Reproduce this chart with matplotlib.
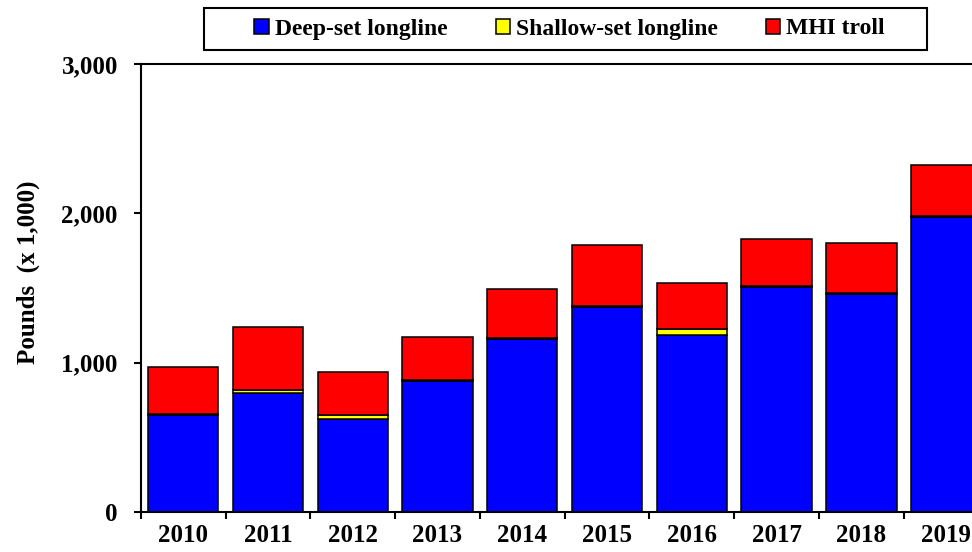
import matplotlib
matplotlib.use('Agg')
import matplotlib.pyplot as plt
from matplotlib.patches import Rectangle
import numpy as np

plt.rcParams['font.family'] = ['Liberation Serif', 'DejaVu Serif']
plt.rcParams['font.weight'] = 'bold'

years = ['2010', '2011', '2012', '2013', '2014', '2015', '2016', '2017', '2018', '2019']
deep_set = [650, 795, 623, 878, 1160, 1372, 1185, 1506, 1459, 1978]
shallow_set = [8, 25, 27, 6, 7, 7, 42, 7, 5, 6]
mhi_troll = [315, 417, 285, 290, 326, 409, 306, 313, 335, 340]

fig = plt.figure(figsize=(9.72, 5.52), dpi=100)
# plot area runs past the right edge, like the source image
ax = fig.add_axes([0.1448, 0.0725, 0.8722, 0.8116])

x = np.arange(len(years))
deep = np.array(deep_set)
shal = np.array(shallow_set)
kw = dict(width=0.83, edgecolor='black', linewidth=1.1)
b1 = ax.bar(x, deep, color='#0000ff', label='Deep-set longline', **kw)
b2 = ax.bar(x, shal, bottom=deep, color='#ffff00', label='Shallow-set longline', **kw)
b3 = ax.bar(x, mhi_troll, bottom=deep + shal, color='#ff0000', label='MHI troll', **kw)

ax.set_xlim(-0.5, len(years) - 0.5)
ax.set_ylim(0, 3000)
ax.set_yticks([0, 1000, 2000, 3000])
ax.set_yticklabels(['0', '1,000', '2,000', '3,000'])
ax.set_xticks(x)
ax.set_xticklabels(years)
ax.set_xticks(np.arange(-0.5, len(years), 1.0), minor=True)

ax.tick_params(axis='y', direction='out', length=5, width=1.5, pad=11.5, labelsize=18)
ax.tick_params(axis='x', which='major', length=0, pad=8.5, labelsize=18)
ax.tick_params(axis='x', which='minor', direction='out', length=5, width=1.5)
for lab in ax.get_xticklabels() + ax.get_yticklabels():
    lab.set_fontweight('bold')

for s in ax.spines.values():
    s.set_linewidth(1.5)

fig.text(28 / 972, 1 - 272 / 552, 'Pounds  (x 1,000)', rotation=90,
         ha='center', va='center', fontsize=18, fontweight='bold')

fig.legend(handles=[b1, b2, b3], loc='center', ncol=3, frameon=False,
           bbox_to_anchor=(569.5 / 972, 1 - 29 / 552),
           prop={'size': 17, 'weight': 'bold'},
           handlelength=0.6, handleheight=0.6, handletextpad=0.25,
           columnspacing=2.05, borderpad=0.2)
fig.patches.append(Rectangle((204 / 972, 1 - 50 / 552), 723 / 972, 42 / 552,
                             transform=fig.transFigure, fill=False,
                             edgecolor='black', linewidth=1.5))

fig.savefig('out.png', dpi=100)
